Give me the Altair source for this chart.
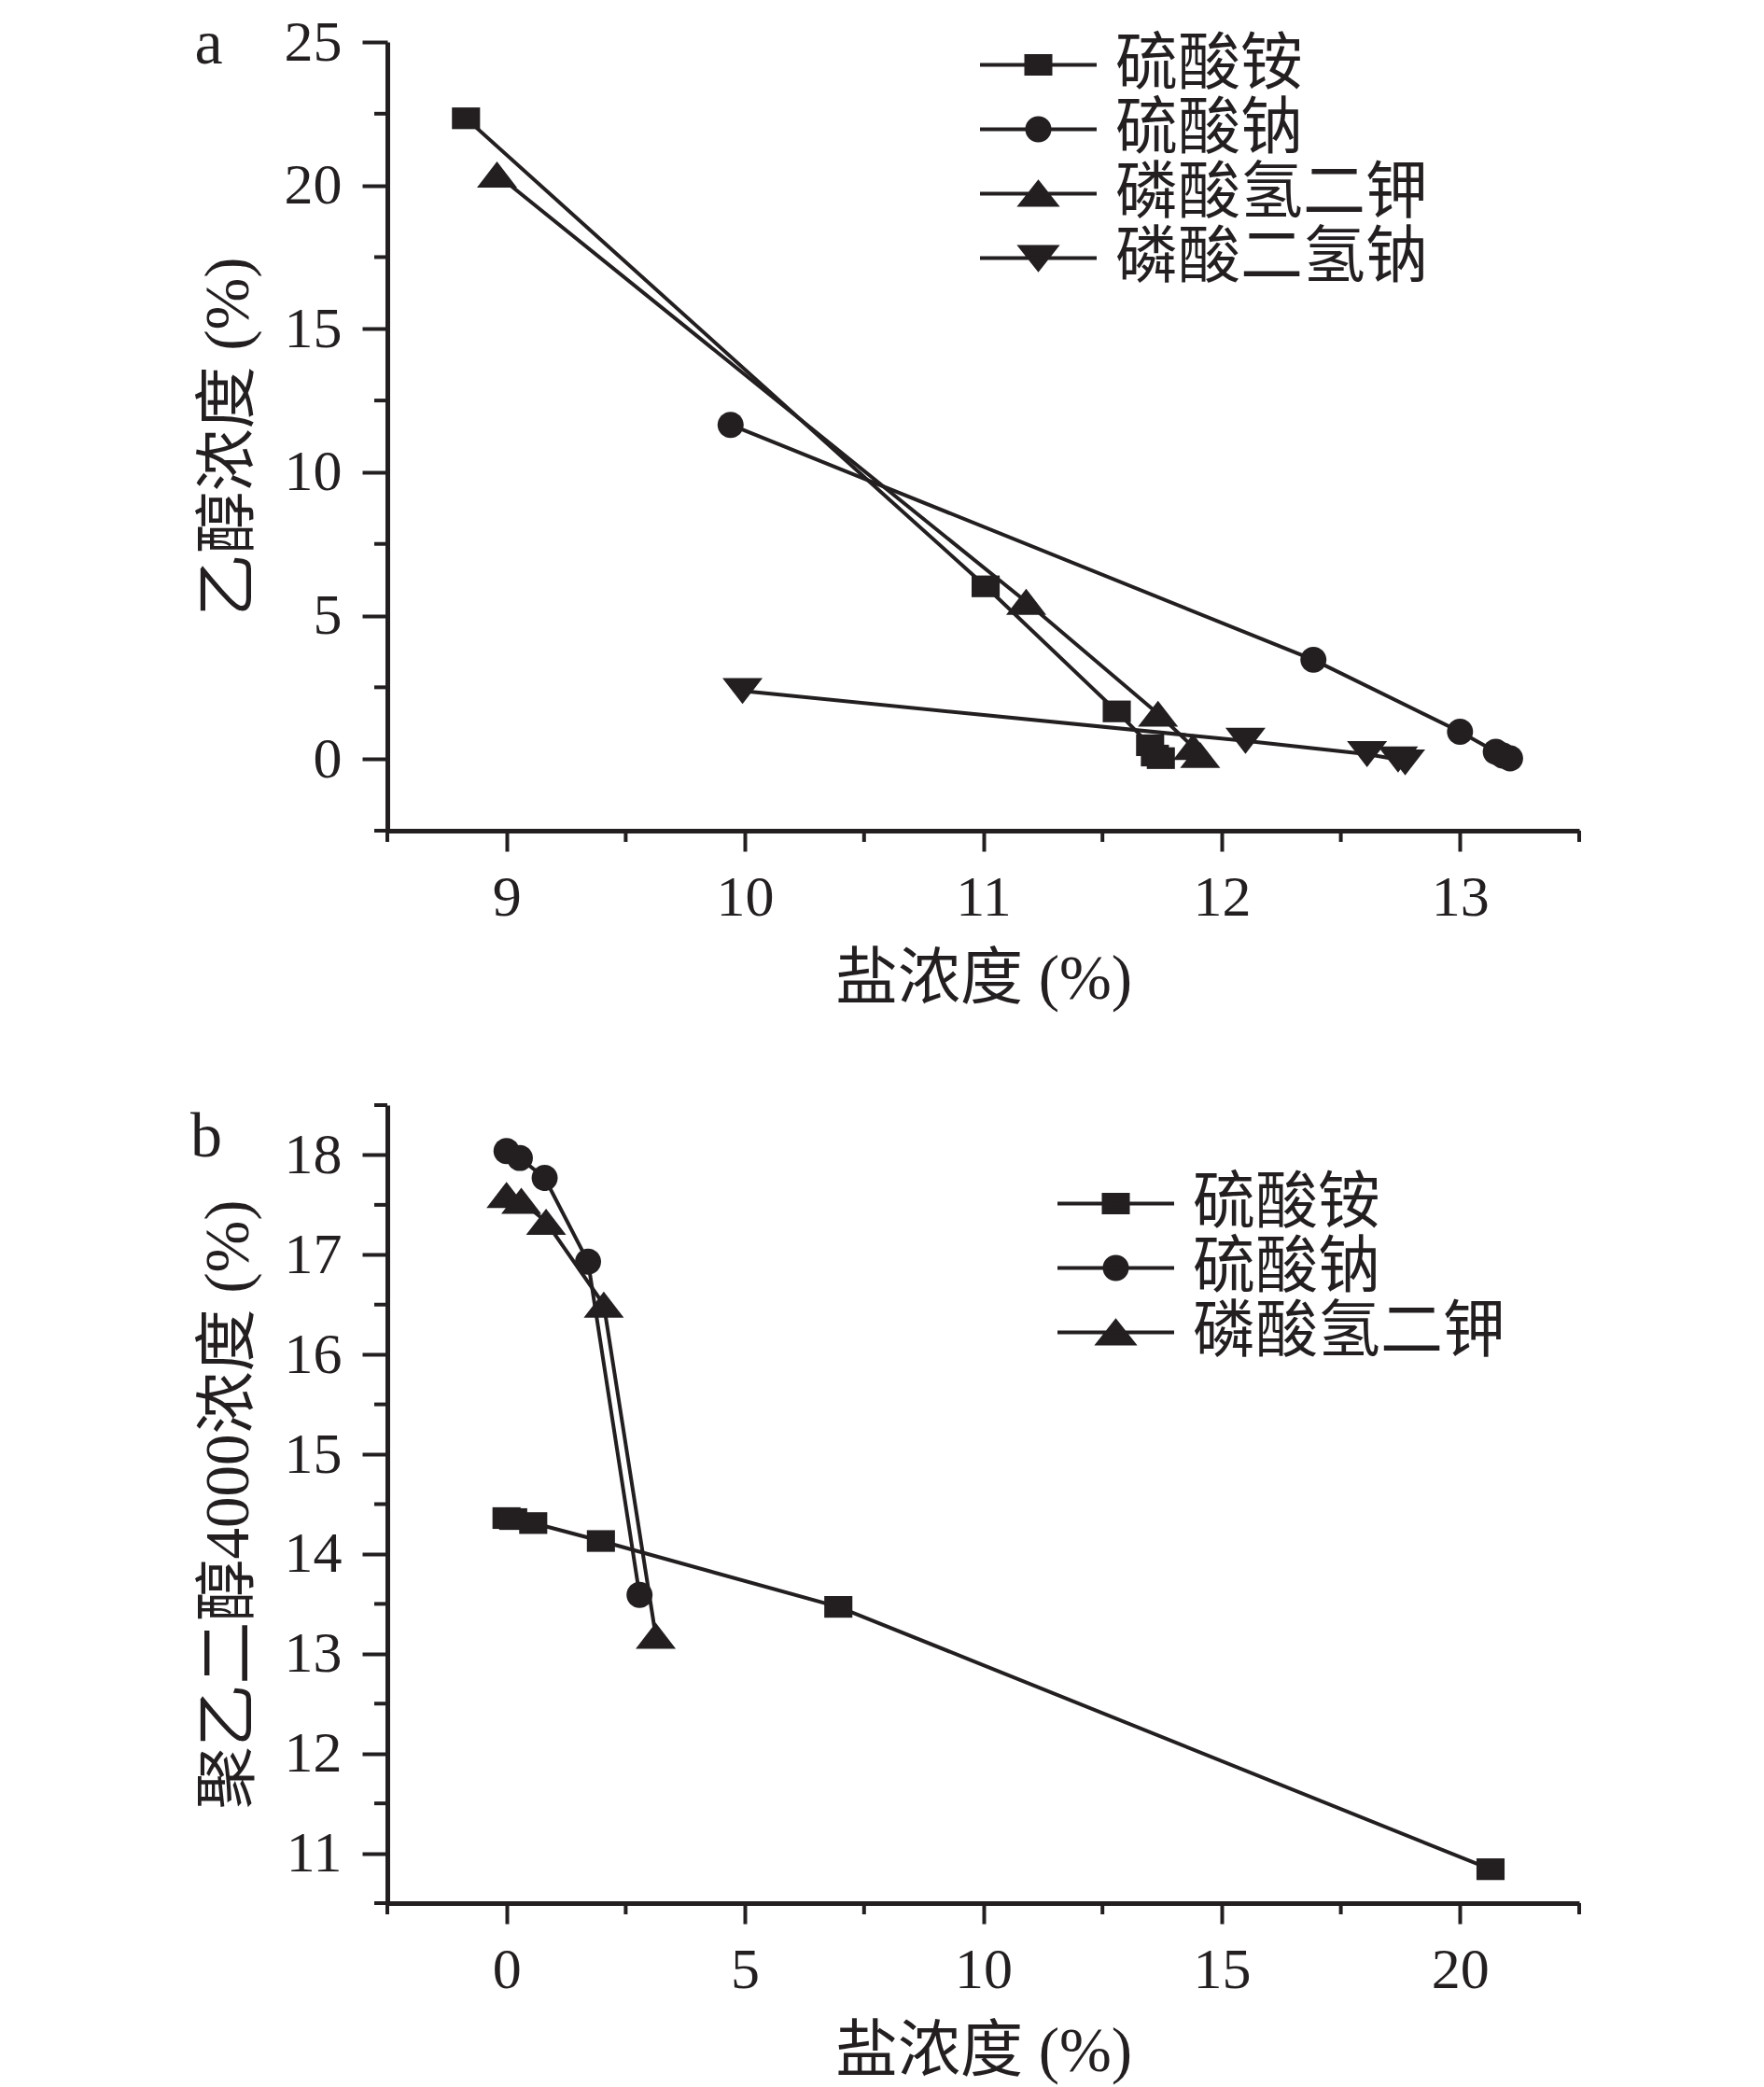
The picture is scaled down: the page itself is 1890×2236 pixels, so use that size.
import altair as alt
import pandas as pd

INK = "#231f20"
FONT = "Liberation Serif, Noto Sans CJK SC"

# ---------------- panel a data ----------------
series_a = ["硫酸铵", "硫酸钠", "磷酸氢二钾", "磷酸二氢钠"]
a_ams_x = [8.83, 11.01, 11.56, 11.70, 11.72, 11.745]
a_ams_y = [22.34, 6.02, 1.66, 0.48, 0.12, 0.03]
a_sod_x = [9.94, 12.385, 13.0, 13.15, 13.18, 13.21]
a_sod_y = [11.65, 3.46, 0.95, 0.25, 0.12, 0.02]
a_dkp_x = [8.96, 11.18, 11.733, 11.88, 11.91]
a_dkp_y = [20.38, 5.48, 1.58, 0.42, 0.14]
a_msp_x = [9.99, 12.10, 12.61, 12.74, 12.77]
a_msp_y = [2.37, 0.63, 0.17, -0.02, -0.12]

# ---------------- panel b data ----------------
series_b = ["硫酸铵", "硫酸钠", "磷酸氢二钾"]
b_ams_x = [0.0, 0.14, 0.56, 1.98, 6.96, 20.64]
b_ams_y = [14.36, 14.35, 14.31, 14.13, 13.47, 10.84]
b_sod_x = [0.0, 0.28, 0.80, 1.71, 2.79]
b_sod_y = [18.04, 17.97, 17.77, 16.93, 13.59]
b_dkp_x = [0.0, 0.31, 0.83, 2.04, 3.13]
b_dkp_y = [17.60, 17.54, 17.33, 16.50, 13.18]

# axis ticks
a_x_major = [9, 10, 11, 12, 13]
a_x_minor = [8.5, 9.5, 10.5, 11.5, 12.5, 13.5]
a_y_major = [0, 5, 10, 15, 20, 25]
a_y_minor = [-2.5, 2.5, 7.5, 12.5, 17.5, 22.5]
b_x_major = [0, 5, 10, 15, 20]
b_x_minor = [-2.5, 2.5, 7.5, 12.5, 17.5, 22.5]
b_y_major = [11, 12, 13, 14, 15, 16, 17, 18]
b_y_minor = [10.5, 11.5, 12.5, 13.5, 14.5, 15.5, 16.5, 17.5, 18.5]

# marker shapes (unit box, drawn with one common size)
MARK_SQ = "M-0.7,-0.54L0.7,-0.54L0.7,0.54L-0.7,0.54Z"
MARK_CI = "M-0.65,0A0.65,0.65 0 1,0 0.65,0A0.65,0.65 0 1,0 -0.65,0Z"
MARK_TU = "M0,-0.65L1,0.65L-1,0.65Z"
MARK_TD = "M-1,-0.65L1,-0.65L0,0.65Z"
marker_paths = [MARK_SQ, MARK_CI, MARK_TU, MARK_TD]
MARK_SIZE = 43 * 43

# legend symbols: line with marker in the middle (unit = 20 px)
LEG_SQ = "M-3.125,0L3.125,0M-0.65,-0.475L0.65,-0.475L0.65,0.475L-0.65,0.475Z"
LEG_CI = "M-3.125,0L3.125,0M-0.6,0A0.6,0.6 0 1,0 0.6,0A0.6,0.6 0 1,0 -0.6,0Z"
LEG_TU = "M-3.125,0L3.125,0M0,-0.6L0.95,0.6L-0.95,0.6Z"
LEG_TD = "M-3.125,0L3.125,0M-0.95,-0.6L0.95,-0.6L0,0.6Z"
legend_paths = [LEG_SQ, LEG_CI, LEG_TU, LEG_TD]
LEG_SIZE = 1600

W = 1277


def make_df(series, xs, ys):
    rows = []
    for s, xl, yl in zip(series, xs, ys):
        for i, (xv, yv) in enumerate(zip(xl, yl)):
            rows.append({"s": s, "i": i, "x": xv, "y": yv})
    return pd.DataFrame(rows)


def panel(df, series, xdom, ydom, xmaj, xmin, ymaj, ymin, ytitle,
          letter, lpos, legpos, H):
    xsc = alt.Scale(domain=xdom, nice=False, zero=False)
    ysc = alt.Scale(domain=ydom, nice=False, zero=False)
    x_enc = alt.X("x:Q", scale=xsc,
                  axis=alt.Axis(values=xmaj, title="盐浓度 (%)", tickSize=22,
                                labelPadding=19, titlePadding=24, format="d"))
    y_enc = alt.Y("y:Q", scale=ysc,
                  axis=alt.Axis(values=ymaj, title=ytitle, tickSize=27,
                                labelPadding=22, titlePadding=25, format="d"))
    base = alt.Chart(df)
    lines = base.mark_line(color=INK, strokeWidth=4).encode(
        x=x_enc, y=y_enc, detail="s:N", order="i:Q")
    pts = base.mark_point(filled=True, color=INK, opacity=1, strokeWidth=0,
                          size=MARK_SIZE).encode(
        x="x:Q", y="y:Q",
        shape=alt.Shape("s:N", scale=alt.Scale(domain=series,
                                               range=marker_paths[:len(series)]),
                        legend=None))
    leg = base.transform_filter("false").mark_point(
        filled=True, color=INK, fill=INK, stroke=INK, strokeWidth=4,
        opacity=1).encode(
        x="x:Q", y="y:Q",
        shape=alt.Shape("s:N", scale=alt.Scale(domain=series,
                                               range=legend_paths[:len(series)]),
                        legend=alt.Legend(title=None, orient="none",
                                          legendX=legpos[0], legendY=legpos[1],
                                          symbolSize=LEG_SIZE,
                                          symbolStrokeWidth=4,
                                          symbolOpacity=1,
                                          labelFont=FONT, labelFontSize=67,
                                          labelColor=INK, labelLimit=0,
                                          labelOffset=49, rowPadding=1,
                                          padding=0)))
    xminor = alt.Chart(pd.DataFrame({"x": xmin})).mark_rule(
        color=INK, strokeWidth=4).encode(
        x=alt.X("x:Q", scale=xsc), y=alt.value(H), y2=alt.value(H + 12))
    yminor = alt.Chart(pd.DataFrame({"y": ymin})).mark_rule(
        color=INK, strokeWidth=4).encode(
        y=alt.Y("y:Q", scale=ysc), x=alt.value(0), x2=alt.value(-14))
    txt = alt.Chart(pd.DataFrame({"t": [letter]})).mark_text(
        font="Liberation Serif", fontSize=68, color=INK, align="center",
        baseline="alphabetic").encode(
        text="t:N", x=alt.value(lpos[0]), y=alt.value(lpos[1]))
    return alt.layer(lines, pts, xminor, yminor, txt, leg).resolve_scale(
        shape="independent").properties(width=W, height=H)


df_a = make_df(series_a, [a_ams_x, a_sod_x, a_dkp_x, a_msp_x],
               [a_ams_y, a_sod_y, a_dkp_y, a_msp_y])
df_b = make_df(series_b, [b_ams_x, b_sod_x, b_dkp_x],
               [b_ams_y, b_sod_y, b_dkp_y])

pa = panel(df_a, series_a, [8.5, 13.5], [-2.5, 25], a_x_major, a_x_minor,
           a_y_major, a_y_minor, "乙醇浓度 (%)", "a", (-191.5, 23),
           (664, -9), 845)
pb = panel(df_b, series_b, [-2.5, 22.5], [10.5, 18.5], b_x_major, b_x_minor,
           b_y_major, b_y_minor, "聚乙二醇4000浓度 (%)", "b", (-194, 55.3),
           (747, 72), 855)

chart = alt.vconcat(pa, pb, spacing=100).properties(
    padding={"left": 196, "top": 6, "right": 5, "bottom": 5}
).configure_view(stroke=None).configure_axis(
    domainColor=INK, domainWidth=5, tickColor=INK, tickWidth=4,
    labelFont=FONT, labelFontSize=62, labelColor=INK,
    titleFont=FONT, titleFontSize=67, titleFontWeight="normal", titleColor=INK,
    grid=False, labelOverlap=False, labelFlush=False
)

chart.save("out.html", embed_options={"renderer": "svg", "actions": False})
